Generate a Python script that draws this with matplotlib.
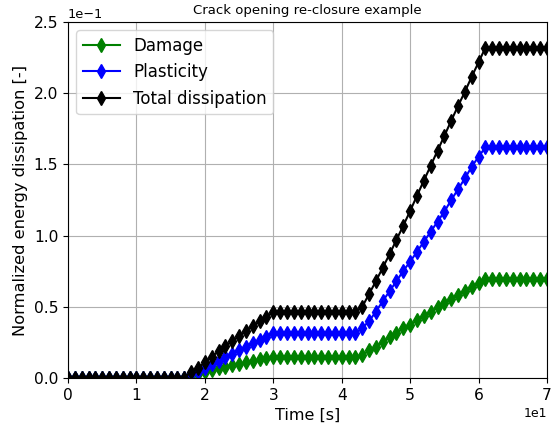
import numpy as np
import matplotlib
matplotlib.use("Agg")
from matplotlib import pyplot as plt

time = list(range(0, 71))

damage = [0.0] * 18 + [
    0.0015, 0.0025, 0.004, 0.0055, 0.0068, 0.008, 0.009, 0.010, 0.011, 0.012, 0.013, 0.014, 0.015,  # 18-30
] + [0.015] * 12 + [
    0.016, 0.0195, 0.022, 0.0255, 0.0285, 0.0318, 0.035, 0.0372, 0.0407, 0.0435,  # 43-52
    0.0466, 0.0496, 0.0529, 0.0553, 0.0583, 0.0613, 0.0641, 0.0669, 0.0695,        # 53-61
] + [0.0695] * 9

plasticity = [0.0] * 18 + [
    0.003, 0.0045, 0.007, 0.0095, 0.012, 0.0145, 0.017, 0.0195, 0.022, 0.0245, 0.0268, 0.029, 0.0315,  # 18-30
] + [0.0315] * 12 + [
    0.035, 0.040, 0.0466, 0.054, 0.061, 0.068, 0.0753, 0.0817, 0.0887, 0.0957,     # 43-52
    0.1027, 0.1098, 0.1168, 0.125, 0.1325, 0.1402, 0.1484, 0.1554, 0.162,          # 53-61
] + [0.162] * 9

total = [0.0] * 18 + [
    0.0045, 0.007, 0.011, 0.015, 0.0188, 0.0225, 0.026, 0.0295, 0.033, 0.0365, 0.0398, 0.043, 0.0465,  # 18-30
] + [0.0465] * 12 + [
    0.050, 0.059, 0.068, 0.0775, 0.087, 0.097, 0.107, 0.1173, 0.128, 0.1386,       # 43-52
    0.149, 0.1596, 0.170, 0.1807, 0.191, 0.201, 0.2116, 0.2217, 0.232,             # 53-61
] + [0.232] * 9

fig = plt.figure(figsize=(5.56, 4.24), dpi=100)
ax = fig.add_axes([68 / 556, 46 / 424, 479 / 556, 356 / 424])

ax.plot(time, damage, color='green', marker='d', markersize=7, label='Damage')
ax.plot(time, plasticity, color='blue', marker='d', markersize=7, label='Plasticity')
ax.plot(time, total, color='black', marker='d', markersize=7, label='Total dissipation')

ax.set_xlim(0, 70)
ax.set_ylim(0, 0.25)
ax.ticklabel_format(style='sci', axis='both', scilimits=(0, 0))
ax.tick_params(labelsize=11.2)
ax.xaxis.get_offset_text().set_fontsize(9)
ax.yaxis.get_offset_text().set_fontsize(9.3)
ax.grid(True)
ax.set_xlabel('Time [s]', fontsize=11.5)
ax.set_ylabel('Normalized energy dissipation [-]', fontsize=11.7)
ax.set_title('Crack opening re-closure example', fontsize=9.5)
ax.legend(loc='upper left', fontsize=12, handlelength=2.2)

fig.savefig('out.png', dpi=100)
